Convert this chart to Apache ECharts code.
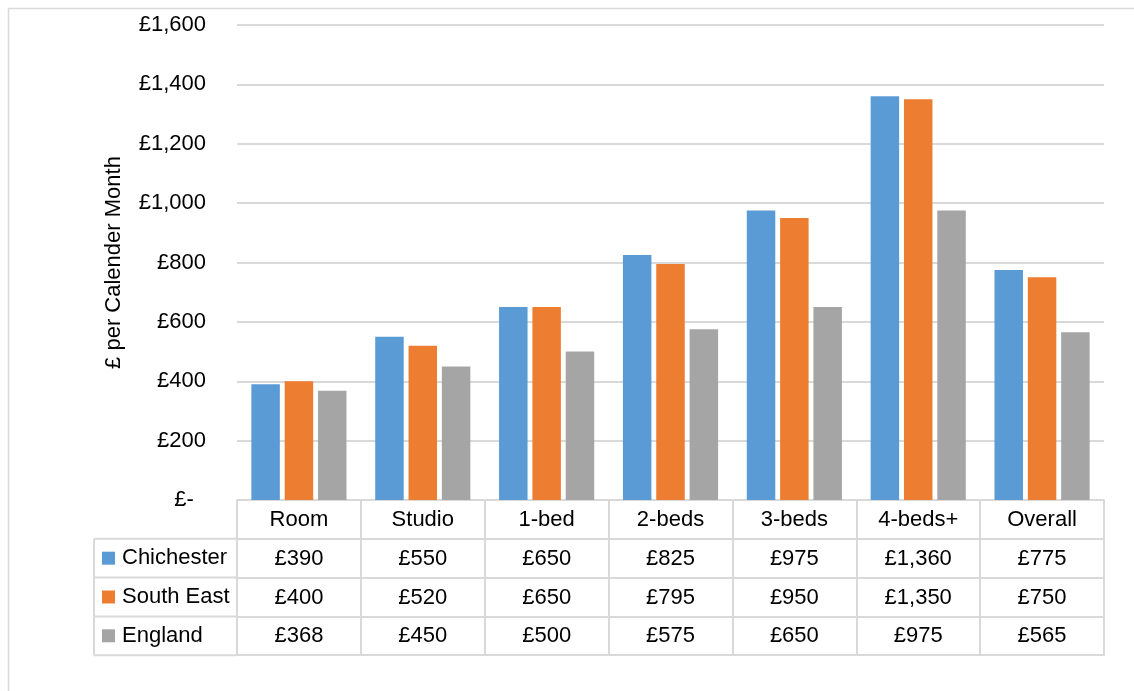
<!DOCTYPE html>
<html>
<head>
<meta charset="utf-8">
<style>
  html, body { margin: 0; padding: 0; background: #fff; }
  #chart { width: 1134px; height: 691px; }
</style>
<script src="https://cdn.jsdelivr.net/npm/echarts@6/dist/echarts.min.js"></script>
</head>
<body>
<div id="chart"></div>
<script>
// Monthly private rents by property size
const categories = ['Room', 'Studio', '1-bed', '2-beds', '3-beds', '4-beds+', 'Overall'];
const seriesNames = ['Chichester', 'South East', 'England'];
const chichester = [390, 550, 650, 825, 975, 1360, 775];
const southEast = [400, 520, 650, 795, 950, 1350, 750];
const england = [368, 450, 500, 575, 650, 975, 565];
const yMin = 0, yMax = 1600, yStep = 200;
const axisTitle = '£ per Calender Month';

const seriesValues = [chichester, southEast, england];
const colors = ['#5B9BD5', '#ED7D31', '#A5A5A5'];

// layout of the plot and the data table beneath it
const W = 1134, H = 691;
const GRID_LEFT = 237, GRID_RIGHT = 1104, GRID_TOP = 25, GRID_BOTTOM = 500;
const ROW_H = 38.8;
const TABLE_LEFT = 94;
const FONT = "'Liberation Sans', Arial, sans-serif";
const LINE = '#d9d9d9';

function money(v) {
  if (v === 0) return '£-  ';
  return '£' + String(v).replace(/\B(?=(\d{3})+(?!\d))/g, ',');
}

const cellAxis = (data, offset, showLabel) => ({
  type: 'category',
  gridIndex: 0,
  position: 'bottom',
  offset: offset,
  data: data,
  boundaryGap: true,
  axisLine: { show: true, lineStyle: { color: LINE, width: 2 } },
  axisTick: { show: showLabel, interval: 0, alignWithLabel: false, length: ROW_H, inside: false,
              lineStyle: { color: LINE, width: 2 } },
  axisLabel: { show: showLabel, interval: 0, margin: 9, fontSize: 22, color: '#000', fontFamily: FONT },
  splitLine: { show: false }
});

const xAxes = [cellAxis(categories, 0, true)];
seriesValues.forEach((vals, i) => xAxes.push(cellAxis(vals.map(money), ROW_H * (i + 1), true)));
xAxes.push(cellAxis(categories, ROW_H * 4, false));

// borders of the legend column of the table
const legendLines = [];
for (let r = 1; r <= 4; r++) {
  const y = GRID_BOTTOM + ROW_H * r;
  legendLines.push({ type: 'line', shape: { x1: TABLE_LEFT, y1: y, x2: GRID_LEFT, y2: y },
                     style: { stroke: LINE, lineWidth: 2 }, silent: true });
}
legendLines.push({ type: 'line', shape: { x1: TABLE_LEFT, y1: GRID_BOTTOM + ROW_H, x2: TABLE_LEFT, y2: GRID_BOTTOM + ROW_H * 4 },
                   style: { stroke: LINE, lineWidth: 2 }, silent: true });

const chart = echarts.init(document.getElementById('chart'), null, { renderer: 'canvas' });
chart.setOption({
  animation: false,
  backgroundColor: '#fff',
  textStyle: { fontFamily: FONT },
  grid: { left: GRID_LEFT, right: W - GRID_RIGHT, top: GRID_TOP, bottom: H - GRID_BOTTOM, containLabel: false },
  legend: {
    orient: 'vertical',
    left: 102,
    top: GRID_BOTTOM + ROW_H,
    padding: 0,
    itemGap: 0,
    itemWidth: 13,
    itemHeight: 13,
    icon: 'rect',
    selectedMode: false,
    data: seriesNames,
    textStyle: { fontSize: 22, color: '#000', lineHeight: ROW_H, padding: [0, 0, 0, 2], fontFamily: FONT }
  },
  xAxis: xAxes,
  yAxis: {
    type: 'value',
    min: yMin, max: yMax, interval: yStep,
    name: axisTitle,
    nameLocation: 'middle',
    nameGap: 112,
    nameRotate: 90,
    nameTextStyle: { fontSize: 22, color: '#000', fontFamily: FONT },
    axisLine: { show: false },
    axisTick: { show: false },
    axisLabel: { fontSize: 22, color: '#000', margin: 31, formatter: money, fontFamily: FONT },
    splitLine: { show: true, lineStyle: { color: LINE, width: 2 } }
  },
  series: seriesNames.map((name, i) => ({
    name: name,
    type: 'bar',
    xAxisIndex: 0,
    data: seriesValues[i],
    barWidth: '23%',
    barGap: '17%',
    itemStyle: { color: colors[i] }
  })),
  graphic: [
    { type: 'rect', shape: { x: 8.5, y: 8.5, width: 1200, height: 800 },
      style: { fill: 'none', stroke: LINE, lineWidth: 1.5 }, silent: true, z: -1 }
  ].concat(legendLines)
});
</script>
</body>
</html>
